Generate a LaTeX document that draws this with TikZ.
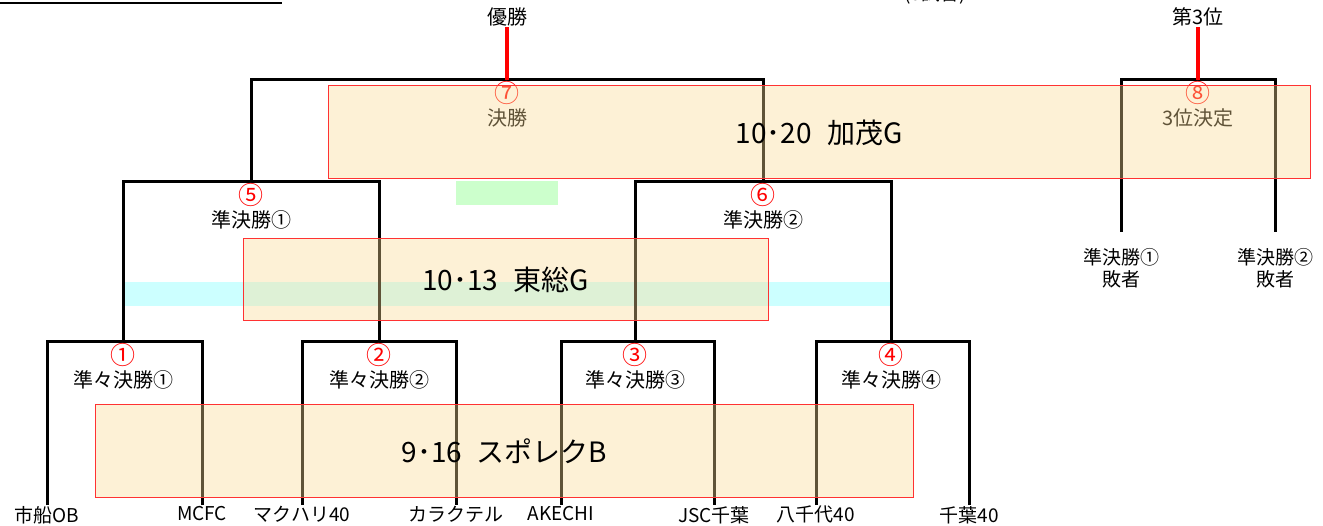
\documentclass[tikz,border=0pt]{standalone}
\usepackage{fontspec}
\newfontfamily\jpfont{Noto Sans CJK JP}
\usetikzlibrary{positioning}
\definecolor{venue}{RGB}{252,219,148}
\definecolor{venueline}{RGB}{255,50,50}
\definecolor{stripcyan}{RGB}{204,255,255}
\definecolor{stripgreen}{RGB}{204,255,204}
\newcommand{\matchno}[1]{{\color{red}\fontsize{25}{25}\selectfont #1}}
\tikzset{
  bracket/.style={line width=3pt},
  winline/.style={line width=3.5pt,red},
  team/.style={font=\jpfont\fontsize{19}{22}\selectfont,inner sep=1pt,anchor=north,align=center},
  match/.style={font=\jpfont\fontsize{20}{23}\selectfont,inner sep=1pt,anchor=north,align=center},
  venuebox/.style={draw=venueline,line width=1pt,fill=venue,fill opacity=0.38,
    text opacity=1,font=\jpfont\fontsize{28}{30}\selectfont,inner sep=0pt}
}
\begin{document}
\begin{tikzpicture}[x=1pt,y=-1pt]
\useasboundingbox[fill=white] (0,0) rectangle (1323,526);
\draw[line width=1.5pt] (0,3) -- (282,3);
\node[font=\jpfont\fontsize{19}{22}\selectfont,anchor=base,inner sep=0pt] (count) at (935,1) {(8試合)};
% strips behind the brackets
\fill[stripcyan] (123,282) rectangle (891,306);
\fill[stripgreen] (456,181) rectangle (558,205);
% teams
\node[team] (t1) at (47,505) {市船OB};
\node[team] (t2) at (202,505) {MCFC};
\node[team] (t3) at (302,505) {マクハリ40};
\node[team] (t4) at (456,505) {カラクテル};
\node[team] (t5) at (561,505) {AKECHI};
\node[team] (t6) at (714,505) {JSC千葉};
\node[team] (t7) at (816,505) {八千代40};
\node[team] (t8) at (969,505) {千葉40};
\coordinate (q1) at (123,342);
\coordinate (q2) at (379,342);
\coordinate (q3) at (635,342);
\coordinate (q4) at (891,342);
\coordinate (s1) at (251,182);
\coordinate (s2) at (763,182);
\coordinate (f) at (507,80);
\coordinate (th) at (1198,80);
\draw[bracket] (t1.north) |- (q1) -| (t2.north);
\draw[bracket] (t3.north) |- (q2) -| (t4.north);
\draw[bracket] (t5.north) |- (q3) -| (t6.north);
\draw[bracket] (t7.north) |- (q4) -| (t8.north);
\draw[bracket] (q1) |- (s1) -| (q2);
\draw[bracket] (q3) |- (s2) -| (q4);
\draw[bracket] (s1) |- (f) -| (s2);
\node[team,anchor=center,font=\jpfont\fontsize{20}{22}\selectfont] (champ) at (507,17) {優勝};
\draw[winline] (champ) -- (f);
% third place
\coordinate (l1e) at (1121,232);
\coordinate (l2e) at (1275,232);
\node[team,below=15pt of l1e] (l1) {準決勝①\\敗者};
\node[team,below=15pt of l2e] (l2) {準決勝②\\敗者};
\draw[bracket] (l1e) |- (th) -| (l2e);
\node[team,anchor=center,font=\jpfont\fontsize{20}{22}\selectfont] (third) at (1198,17) {第3位};
\draw[winline] (third) -- (th);
% match labels
\node[match,below=0pt of q1] (m1) {\matchno{①}\\準々決勝①};
\node[match,below=0pt of q2] (m2) {\matchno{②}\\準々決勝②};
\node[match,below=0pt of q3] (m3) {\matchno{③}\\準々決勝③};
\node[match,below=0pt of q4] (m4) {\matchno{④}\\準々決勝④};
\node[match,below=0pt of s1] (m5) {\matchno{⑤}\\準決勝①};
\node[match,below=0pt of s2] (m6) {\matchno{⑥}\\準決勝②};
\node[match,below=0pt of f] (m7) {\matchno{⑦}\\決勝};
\node[match,below=0pt of th] (m8) {\matchno{⑧}\\3位決定};
% venues
\node[venuebox,minimum width=982pt,minimum height=93pt] (v3) at (819,132.5) {10･20\hspace{.55em}加茂G};
\node[venuebox,minimum width=525pt,minimum height=82pt] (v2) at (505.5,280) {10･13\hspace{.55em}東総G};
\node[venuebox,minimum width=818pt,minimum height=92pt] (v1) at (504,451) {9･16\hspace{.5em}スポレクB};
\end{tikzpicture}
\end{document}
